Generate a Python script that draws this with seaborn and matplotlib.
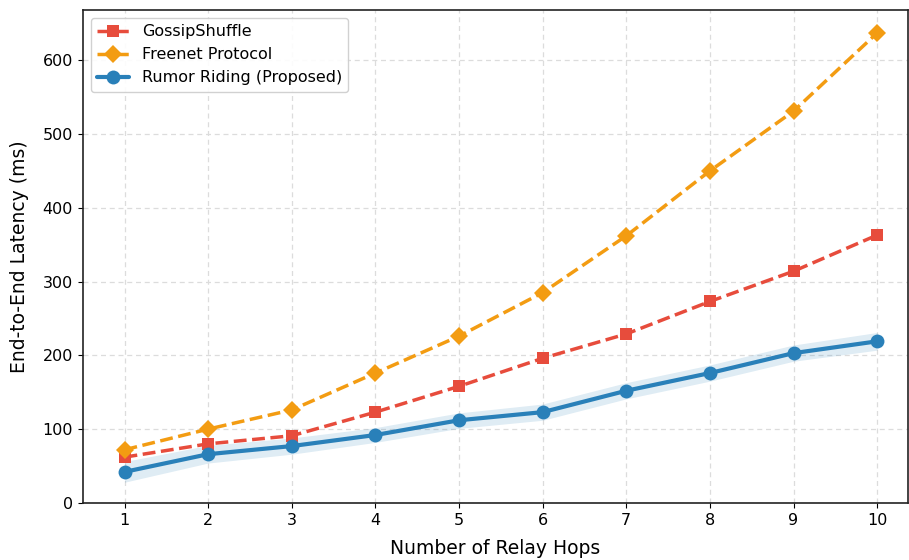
import numpy as np
import pandas as pd
import matplotlib
matplotlib.use("Agg")
import matplotlib.pyplot as plt
import seaborn as sns

# Data
hops = [1, 2, 3, 4, 5, 6, 7, 8, 9, 10]
gossip_shuffle = [62, 80, 91, 123, 158, 196, 229, 273, 314, 363]
freenet = [72, 100, 126, 176, 226, 285, 362, 450, 531, 637]
rumor_riding = [42, 66, 77, 92, 112, 123, 152, 176, 203, 219]
rumor_lower = [28, 54, 66, 82, 101, 112, 141, 165, 192, 207]
rumor_upper = [56, 78, 88, 102, 122, 134, 163, 187, 214, 231]

sns.set_style("ticks")
plt.rcParams['font.family'] = ['DejaVu Sans']
plt.rcParams['text.color'] = 'black'
plt.rcParams['axes.labelcolor'] = 'black'
plt.rcParams['xtick.color'] = 'black'
plt.rcParams['ytick.color'] = 'black'

fig = plt.figure(figsize=(9.09, 5.6), dpi=100)
ax = fig.add_axes([0.091, 0.102, 0.908, 0.880])

sns.lineplot(x=hops, y=gossip_shuffle, ax=ax, color='#e74c3c', linestyle='--',
             linewidth=2.5, marker='s', markersize=8, markeredgewidth=0,
             label='GossipShuffle')
sns.lineplot(x=hops, y=freenet, ax=ax, color='#f39c12', linestyle='--',
             linewidth=2.5, marker='D', markersize=9, markeredgewidth=0,
             label='Freenet Protocol')
ax.fill_between(hops, rumor_lower, rumor_upper, color='#2980b9', alpha=0.15, linewidth=0)
sns.lineplot(x=hops, y=rumor_riding, ax=ax, color='#2980b9', linestyle='-',
             linewidth=3, marker='o', markersize=10, markeredgewidth=0,
             label='Rumor Riding (Proposed)')

ax.set_xlim(0.5, 10.37)
ax.set_ylim(0, 668)
ax.set_xticks(hops)
ax.set_yticks([0, 100, 200, 300, 400, 500, 600])
ax.tick_params(labelsize=11.5)
ax.grid(True, linestyle=(0, (4, 3)), color='#dcdcdc', linewidth=0.9)
ax.set_axisbelow(True)
for s in ax.spines.values():
    s.set_color('#222222')
    s.set_linewidth(1.2)

ax.set_xlabel('Number of Relay Hops', fontsize=13.5, labelpad=8)
ax.set_ylabel('End-to-End Latency (ms)', fontsize=13.5, labelpad=10)
ax.legend(loc='upper left', fontsize=11.5, frameon=True, framealpha=0.9)

fig.savefig('out.png', dpi=100)
